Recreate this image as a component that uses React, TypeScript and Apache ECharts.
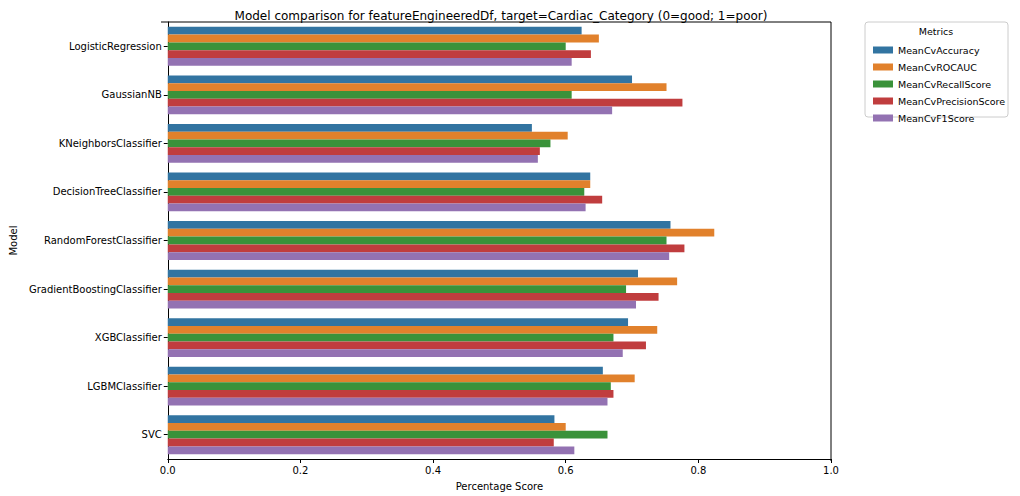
import { useEffect, useRef } from 'react';
import * as echarts from 'echarts';

const models = [
  'LogisticRegression', 'GaussianNB', 'KNeighborsClassifier', 'DecisionTreeClassifier',
  'RandomForestClassifier', 'GradientBoostingClassifier', 'XGBClassifier', 'LGBMClassifier', 'SVC',
];
const metricNames = ['MeanCvAccuracy', 'MeanCvROCAUC', 'MeanCvRecallScore', 'MeanCvPrecisionScore', 'MeanCvF1Score'];
const colors = ['#3274a1', '#e1812c', '#3a923a', '#c03d3e', '#9372b2'];

const accuracy = [0.624, 0.700, 0.549, 0.637, 0.758, 0.709, 0.694, 0.656, 0.583];
const rocAuc = [0.650, 0.752, 0.603, 0.637, 0.824, 0.768, 0.738, 0.704, 0.600];
const recall = [0.600, 0.609, 0.577, 0.628, 0.752, 0.691, 0.672, 0.668, 0.663];
const precision = [0.638, 0.776, 0.561, 0.655, 0.779, 0.740, 0.721, 0.672, 0.582];
const f1 = [0.609, 0.670, 0.558, 0.630, 0.756, 0.706, 0.686, 0.663, 0.613];
const seriesValues = [accuracy, rocAuc, recall, precision, f1];

export default function App() {
  const ref = useRef<HTMLDivElement>(null);

  useEffect(() => {
    if (!ref.current) return;
    const chart = echarts.init(ref.current, undefined, { renderer: 'svg' });
    const font = 'DejaVu Sans';
    chart.setOption({
      animation: false,
      textStyle: { fontFamily: font },
      title: {
        text: 'Model comparison for featureEngineeredDf, target=Cardiac_Category (0=good; 1=poor)',
        left: 496, top: 5, textAlign: 'center',
        textStyle: { fontSize: 12, fontWeight: 'normal', color: '#000', fontFamily: font },
      },
      grid: { left: 161, right: 189, top: 22, bottom: 35 },
      legend: {
        orient: 'vertical', left: 868, top: 40,
        itemWidth: 20, itemHeight: 7, itemGap: 7,
        icon: 'rect',
        textStyle: { fontSize: 9.5, color: '#000', fontFamily: font },
        data: metricNames,
      },
      graphic: [
        { type: 'rect', shape: { x: 865, y: 22, width: 143, height: 95, r: 3 }, style: { fill: '#fff', stroke: '#ccc', lineWidth: 1 }, z: -1 },
        { type: 'text', x: 936, y: 26, style: { text: 'Metrics', fontSize: 9.5, fill: '#000', align: 'center', fontFamily: font } },
        { type: 'line', shape: { x1: 161, y1: 22, x2: 831, y2: 22 }, style: { stroke: '#000', lineWidth: 1 } },
        { type: 'line', shape: { x1: 831, y1: 22, x2: 831, y2: 461 }, style: { stroke: '#000', lineWidth: 1 } },
      ],
      xAxis: {
        type: 'value', min: 0, max: 1, interval: 0.2,
        name: 'Percentage Score', nameLocation: 'middle', nameGap: 22,
        nameTextStyle: { fontSize: 10, color: '#000' },
        axisLine: { show: true, lineStyle: { color: '#000' } },
        axisTick: { show: true, length: 4, lineStyle: { color: '#000' } },
        axisLabel: { fontSize: 10, color: '#000', margin: 6, formatter: (v: number) => v.toFixed(1) },
        splitLine: { show: false },
      },
      yAxis: {
        type: 'category', data: models, inverse: true,
        name: 'Model', nameLocation: 'middle', nameGap: 145, nameRotate: 90,
        nameTextStyle: { fontSize: 10, color: '#000' },
        axisLine: { show: true, lineStyle: { color: '#000' } },
        axisTick: { show: true, alignWithLabel: true, length: 4, lineStyle: { color: '#000' } },
        axisLabel: { fontSize: 10, color: '#000', margin: 6 },
      },
      series: metricNames.map((name, i) => ({
        name, type: 'bar', data: seriesValues[i],
        barGap: '0%', barCategoryGap: '20%',
        itemStyle: { color: colors[i] },
      })),
    });
    return () => chart.dispose();
  }, []);

  return <div ref={ref} style={{ position: 'absolute', left: 0, top: 0, width: 1020, height: 496 }} />;
}
